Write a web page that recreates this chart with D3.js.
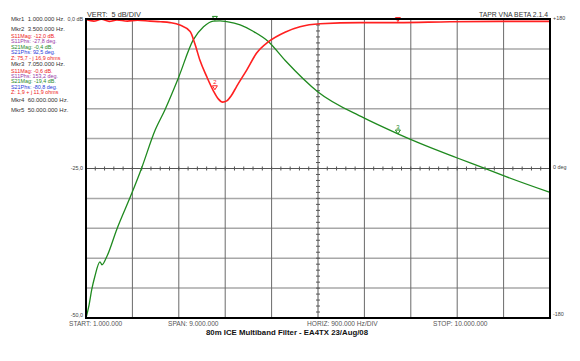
<html>
<head>
<meta charset="utf-8">
<title>80m ICE Multiband Filter</title>
<style>
  body { margin: 0; padding: 0; background: white; font-family: "Liberation Sans", Arial, sans-serif; }
  text { white-space: pre; }
  .grid-h { stroke: #a8a8a8; stroke-width: 1.5; }
  .grid-v { stroke: #6a6a6a; stroke-width: 1; }
  .center { stroke: #555; stroke-width: 1; }
  .frame { fill: none; stroke: black; stroke-width: 2; }
  .lbl { font-size: 6.6px; fill: #333; }
  .mkr { font-size: 6px; fill: #333; }
  .small { font-size: 5.4px; fill: #444; }
</style>
</head>
<body>
<div id="chart"></div>
<script src="https://d3js.org/d3.v7.min.js"></script>
<script>
// S21 (transmission), MHz / dB
var freqS21 = [1.0, 1.06, 1.11, 1.17, 1.27, 1.31, 1.40, 1.6, 1.89, 2.08, 2.34, 2.53, 2.79, 3.08, 3.28, 3.47, 3.6, 3.73, 3.99, 4.25, 4.54, 4.86, 5.5, 6.38, 7.05, 7.48, 8.19, 8.71, 9.16, 10.0];
var s21dB = [-50, -47.8, -45.3, -43.1, -40.6, -41.1, -39.8, -35.1, -29.1, -24.9, -18.6, -15.2, -9.9, -3.5, -1.3, -0.35, -0.3, -0.45, -1.0, -2.1, -3.8, -6.9, -12.2, -16.5, -19.2, -20.8, -23.2, -24.9, -26.4, -29.0];

// S11 (return), MHz / dB
var freqS11 = [1.0, 1.15, 1.3, 1.45, 1.6, 1.8, 2.0, 2.24, 2.45, 2.63, 2.82, 3.02, 3.11, 3.21, 3.34, 3.47, 3.57, 3.65, 3.73, 3.82, 3.92, 4.12, 4.31, 4.54, 4.86, 5.15, 5.54, 6.32, 7.05, 8.06, 9.0, 10.0];
var s11dB = [-0.1, -0.35, -0.05, -0.4, -0.15, -0.35, -0.2, -0.35, -0.45, -0.6, -1.0, -2.1, -4.1, -6.9, -9.6, -12.0, -13.4, -13.9, -13.7, -12.8, -11.3, -8.5, -5.7, -3.8, -2.2, -1.3, -0.8, -0.6, -0.6, -0.45, -0.4, -0.4];

var leftTicks = [0, -25, -50];
var leftLabels = ["0,0 dB", "-25,0", "-50,0"];
var rightLabels = ["+180", "0 deg", "-180"];
var labelShift = [1.5, 1.8, -0.8];

var markers = [
  { n: "2", f: 3.5, s11: -12.0, s21: -0.4 },
  { n: "3", f: 7.05, s11: -0.6, s21: -19.4 }
];

var infoLines = [
  ["Mkr1  1.000.000 Hz.", "#333", "mkr"],
  ["Mkr2  3.500.000 Hz.", "#333", "mkr"],
  ["S11Mag: -12,0 dB.", "#ee2222", "small"],
  ["S11Phs: -27,8 deg.", "#9a3aa8", "small"],
  ["S21Mag: -0,4 dB.", "#1f8a1f", "small"],
  ["S21Phs: 92,5 deg.", "#2a3ad8", "small"],
  ["Z: 75,7 - j 16,9 ohms", "#ee2222", "small"],
  ["Mkr3  7.050.000 Hz.", "#333", "mkr"],
  ["S11Mag: -0,6 dB.", "#ee2222", "small"],
  ["S11Phs: 153,2 deg.", "#9a3aa8", "small"],
  ["S21Mag: -19,4 dB.", "#1f8a1f", "small"],
  ["S21Phs: -80,8 deg.", "#2a3ad8", "small"],
  ["Z: 1,9 + j 11,9 ohms", "#ee2222", "small"],
  ["Mkr4  60.000.000 Hz.", "#333", "mkr"],
  ["Mkr5  50.000.000 Hz.", "#333", "mkr"]
];
var infoY = [21, 31, 37.5, 43, 48.8, 54, 59.5, 66, 72.5, 78, 83, 88.8, 94, 102, 111.5];

var width = 580, height = 361;
var plot = { left: 86, right: 550, top: 19, bottom: 318 };

var svg = d3.select("#chart").append("svg")
    .attr("width", width)
    .attr("height", height);

var x = d3.scaleLinear().domain([1, 10]).range([plot.left, plot.right]);
var y = d3.scaleLinear().domain([0, -50]).range([plot.top, plot.bottom]);

var xGrid = d3.range(1, 10.001, 0.9);
var yGrid = d3.range(0, -50.001, -5);

// grid
svg.append("g").selectAll("line")
    .data(yGrid.filter(function (d) { return d !== -25; }))
    .enter().append("line")
    .attr("class", "grid-h")
    .attr("x1", plot.left).attr("x2", plot.right)
    .attr("y1", function (d) { return y(d); }).attr("y2", function (d) { return y(d); });

svg.append("g").selectAll("line")
    .data(xGrid.filter(function (d, i) { return i !== 5; }))
    .enter().append("line")
    .attr("class", "grid-v")
    .attr("y1", plot.top).attr("y2", plot.bottom)
    .attr("x1", function (d) { return x(d); }).attr("x2", function (d) { return x(d); });

// center lines with minor ticks
var cx = x(5.5), cy = y(-25);
svg.append("line").attr("class", "center")
    .attr("x1", plot.left).attr("x2", plot.right).attr("y1", cy).attr("y2", cy);
svg.append("line").attr("class", "center")
    .attr("x1", cx).attr("x2", cx).attr("y1", plot.top).attr("y2", plot.bottom);

svg.append("g").selectAll("line")
    .data(d3.range(1, 10.001, 0.18))
    .enter().append("line")
    .attr("class", "center")
    .attr("x1", function (d) { return x(d); }).attr("x2", function (d) { return x(d); })
    .attr("y1", cy - 2).attr("y2", cy + 2);

svg.append("g").selectAll("line")
    .data(d3.range(0, -50.001, -1))
    .enter().append("line")
    .attr("class", "center")
    .attr("y1", function (d) { return y(d); }).attr("y2", function (d) { return y(d); })
    .attr("x1", cx - 2).attr("x2", cx + 2);

// traces
var line = d3.line()
    .x(function (d) { return x(d[0]); })
    .y(function (d) { return y(d[1]); })
    .curve(d3.curveMonotoneX);

svg.append("path")
    .datum(d3.zip(freqS21, s21dB))
    .attr("d", line)
    .attr("fill", "none")
    .attr("stroke", "#1f8a1f")
    .attr("stroke-width", 1.3);

svg.append("path")
    .datum(d3.zip(freqS11, s11dB))
    .attr("d", line)
    .attr("fill", "none")
    .attr("stroke", "#ff2020")
    .attr("stroke-width", 1.6);

// markers
function drawMarker(m, val, color, showLabel) {
  var px = x(m.f), py = y(val);
  svg.append("path")
      .attr("d", "M" + (px - 2.5) + "," + (py - 5) + "L" + (px + 2.5) + "," + (py - 5) + "L" + px + "," + (py - 1) + "Z")
      .attr("fill", "none")
      .attr("stroke", color)
      .attr("stroke-width", 1);
  if (showLabel) {
    svg.append("text")
        .attr("x", px).attr("y", py - 6.5)
        .attr("text-anchor", "middle")
        .attr("font-size", "6px")
        .attr("fill", color)
        .text(m.n);
  }
}
drawMarker(markers[0], markers[0].s11, "#ff2020", true);
drawMarker(markers[0], markers[0].s21, "#1f8a1f", false);
drawMarker(markers[1], markers[1].s21, "#1f8a1f", true);
drawMarker(markers[1], markers[1].s11, "#ff2020", false);

// frame
svg.append("rect").attr("class", "frame")
    .attr("x", plot.left).attr("y", plot.top)
    .attr("width", plot.right - plot.left).attr("height", plot.bottom - plot.top);

// axis labels
svg.append("g").selectAll("text")
    .data(leftTicks)
    .enter().append("text")
    .attr("class", "small")
    .attr("x", plot.left - 3)
    .attr("y", function (d, i) { return y(d) + labelShift[i]; })
    .attr("text-anchor", "end")
    .text(function (d, i) { return leftLabels[i]; });

svg.append("g").selectAll("text")
    .data(leftTicks)
    .enter().append("text")
    .attr("class", "small")
    .attr("x", plot.right + 3)
    .attr("y", function (d, i) { return y(d) + labelShift[i] - 1; })
    .text(function (d, i) { return rightLabels[i]; });

svg.append("text").attr("class", "lbl")
    .attr("x", plot.left + 1).attr("y", 17)
    .style("font-size", "7.3px")
    .text("VERT:  5 dB/DIV");
svg.append("text").attr("class", "lbl")
    .attr("x", plot.right - 2).attr("y", 17)
    .attr("text-anchor", "end")
    .style("font-size", "6.8px")
    .text("TAPR VNA BETA 2.1.4");

// bottom labels
var bottomText = [
  ["START: 1.000.000", 69],
  ["SPAN: 9.000.000", 168],
  ["HORIZ: 900.000 Hz/DIV", 307],
  ["STOP: 10.000.000", 433]
];
svg.append("g").selectAll("text")
    .data(bottomText)
    .enter().append("text")
    .attr("class", "lbl")
    .style("fill", "#555")
    .attr("x", function (d) { return d[1]; })
    .attr("y", 325.5)
    .text(function (d) { return d[0]; });

svg.append("text")
    .attr("x", 287).attr("y", 334.5)
    .attr("text-anchor", "middle")
    .attr("font-size", "7.8px")
    .attr("font-weight", "bold")
    .attr("fill", "#111")
    .text("80m ICE Multiband Filter - EA4TX 23/Aug/08");

// marker info block
svg.append("g").selectAll("text")
    .data(infoLines)
    .enter().append("text")
    .attr("class", function (d) { return d[2]; })
    .attr("x", 11)
    .attr("y", function (d, i) { return infoY[i]; })
    .style("fill", function (d) { return d[1]; })
    .text(function (d) { return d[0]; });
</script>
</body>
</html>
